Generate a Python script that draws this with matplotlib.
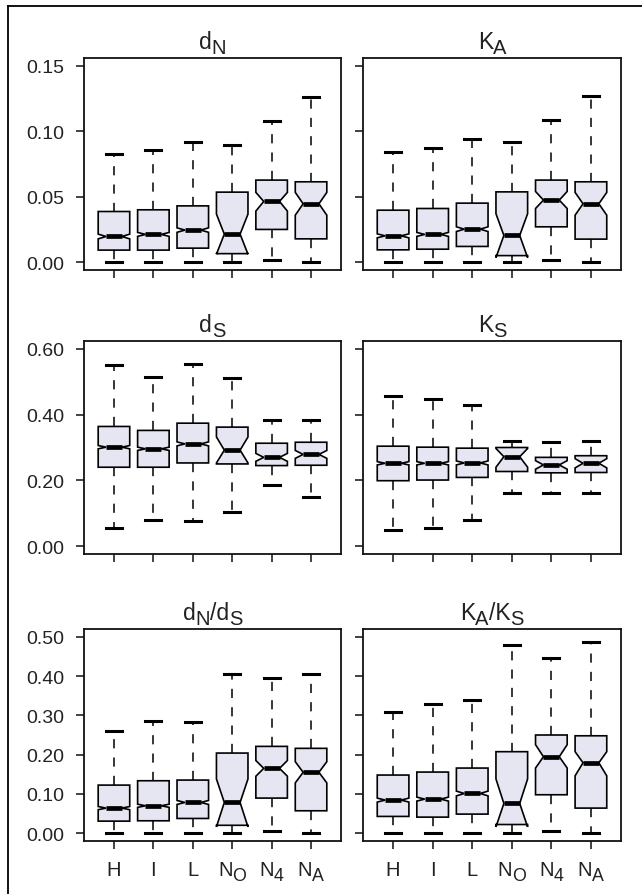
import matplotlib
matplotlib.use('Agg')
import matplotlib.pyplot as plt
from matplotlib.transforms import IdentityTransform
from matplotlib.lines import Line2D

plt.rcParams['font.family'] = ['Liberation Sans', 'DejaVu Sans']

# --------------------------------------------------------------------------
# Data: whisker low, Q1, median, Q3, whisker high,
# notch low, notch high for the six groups
# --------------------------------------------------------------------------
groups = [("H", ""), ("I", ""), ("L", ""), ("N", "O"), ("N", "4"), ("N", "A")]

dn_lo  = [0.0, 0.0, 0.0, 0.0, 0.0015, 0.0]
dn_q1  = [0.0092, 0.0092, 0.0107, 0.0065, 0.025, 0.0178]
dn_med = [0.0196, 0.0212, 0.0245, 0.0214, 0.0464, 0.0446]
dn_q3  = [0.0387, 0.040, 0.043, 0.0535, 0.0627, 0.0614]
dn_hi  = [0.083, 0.0856, 0.092, 0.0897, 0.1077, 0.1263]
dn_clo = [0.0178, 0.0197, 0.0228, 0.0061, 0.039, 0.0359]
dn_chi = [0.0214, 0.0227, 0.0262, 0.0367, 0.0533, 0.0533]

ka_lo  = [0.0, 0.0, 0.0, 0.0, 0.0015, 0.0]
ka_q1  = [0.0094, 0.0099, 0.012, 0.005, 0.027, 0.0176]
ka_med = [0.0201, 0.0212, 0.0252, 0.0204, 0.0474, 0.0446]
ka_q3  = [0.0397, 0.041, 0.0451, 0.0537, 0.0627, 0.0614]
ka_hi  = [0.0843, 0.0871, 0.0942, 0.0917, 0.1087, 0.1268]
ka_clo = [0.0186, 0.0197, 0.0234, 0.0035, 0.041, 0.0359]
ka_chi = [0.0216, 0.0227, 0.027, 0.037, 0.054, 0.0533]

ds_lo  = [0.056, 0.0786, 0.077, 0.105, 0.186, 0.150]
ds_q1  = [0.240, 0.240, 0.253, 0.250, 0.245, 0.246]
ds_med = [0.301, 0.296, 0.311, 0.292, 0.270, 0.279]
ds_q3  = [0.364, 0.352, 0.374, 0.362, 0.313, 0.316]
ds_hi  = [0.550, 0.515, 0.553, 0.510, 0.385, 0.385]
ds_clo = [0.296, 0.291, 0.305, 0.253, 0.258, 0.267]
ds_chi = [0.306, 0.301, 0.317, 0.332, 0.282, 0.291]

ks_lo  = [0.048, 0.054, 0.0786, 0.163, 0.163, 0.163]
ks_q1  = [0.199, 0.201, 0.209, 0.227, 0.223, 0.224]
ks_med = [0.252, 0.252, 0.253, 0.272, 0.247, 0.252]
ks_q3  = [0.304, 0.301, 0.298, 0.300, 0.270, 0.275]
ks_hi  = [0.457, 0.447, 0.428, 0.321, 0.317, 0.321]
ks_clo = [0.247, 0.247, 0.247, 0.240, 0.234, 0.238]
ks_chi = [0.257, 0.257, 0.259, 0.297, 0.260, 0.266]

dnds_lo  = [0.0, 0.0, 0.0, 0.0, 0.0043, 0.0]
dnds_q1  = [0.0306, 0.0315, 0.0374, 0.020, 0.0893, 0.057]
dnds_med = [0.0638, 0.0697, 0.0782, 0.0782, 0.165, 0.155]
dnds_q3  = [0.1224, 0.1335, 0.1352, 0.204, 0.221, 0.216]
dnds_hi  = [0.259, 0.2866, 0.2823, 0.4056, 0.3954, 0.4056]
dnds_clo = [0.0598, 0.0657, 0.0732, 0.016, 0.145, 0.128]
dnds_chi = [0.0678, 0.0737, 0.0832, 0.138, 0.185, 0.182]

kaks_lo  = [0.0, 0.0, 0.0, 0.0, 0.0043, 0.0]
kaks_q1  = [0.0426, 0.0408, 0.0485, 0.022, 0.0978, 0.0638]
kaks_med = [0.0842, 0.0867, 0.101, 0.0757, 0.1947, 0.1793]
kaks_q3  = [0.148, 0.1556, 0.1658, 0.2075, 0.250, 0.248]
kaks_hi  = [0.308, 0.328, 0.3385, 0.480, 0.4464, 0.4864]
kaks_clo = [0.0792, 0.0817, 0.095, 0.016, 0.1658, 0.146]
kaks_chi = [0.0892, 0.0917, 0.107, 0.138, 0.2253, 0.2075]

top_ticks = [0.00, 0.05, 0.10, 0.15]
mid_ticks = [0.00, 0.20, 0.40, 0.60]
bot_ticks = [0.00, 0.10, 0.20, 0.30, 0.40, 0.50]

# --------------------------------------------------------------------------
# Layout (pixels)
# --------------------------------------------------------------------------
W, H = 642, 895
fig = plt.figure(figsize=(W / 100, H / 100), dpi=100)
fig.patch.set_facecolor('white')

cols = [(84, 341), (363, 621)]
rows = [(59, 271), (342, 555), (630, 842)]

FILL = '#e6e6f2'


def make_stats(lo, q1, med, q3, hi, clo, chi):
    out = []
    for i in range(len(med)):
        out.append(dict(whislo=lo[i], q1=q1[i], med=med[i], q3=q3[i],
                        whishi=hi[i], cilo=clo[i], cihi=chi[i], fliers=[]))
    return out


panels = [
    (0, 0, make_stats(dn_lo, dn_q1, dn_med, dn_q3, dn_hi, dn_clo, dn_chi), top_ticks, [("d", 0), ("N", 1)]),
    (0, 1, make_stats(ka_lo, ka_q1, ka_med, ka_q3, ka_hi, ka_clo, ka_chi), top_ticks, [("K", 0), ("A", 1)]),
    (1, 0, make_stats(ds_lo, ds_q1, ds_med, ds_q3, ds_hi, ds_clo, ds_chi), mid_ticks, [("d", 0), ("S", 1)]),
    (1, 1, make_stats(ks_lo, ks_q1, ks_med, ks_q3, ks_hi, ks_clo, ks_chi), mid_ticks, [("K", 0), ("S", 1)]),
    (2, 0, make_stats(dnds_lo, dnds_q1, dnds_med, dnds_q3, dnds_hi, dnds_clo, dnds_chi), bot_ticks,
     [("d", 0), ("N", 1), ("/d", 0), ("S", 1)]),
    (2, 1, make_stats(kaks_lo, kaks_q1, kaks_med, kaks_q3, kaks_hi, kaks_clo, kaks_chi), bot_ticks,
     [("K", 0), ("A", 1), ("/K", 0), ("S", 1)]),
]

renderer = fig.canvas.get_renderer()


def rich_text(x, y, parts, size, sub_scale=0.88, sub_drop=5):
    # x, y in display pixels (y from the bottom); centred on x, baseline at y
    arts = []
    for s, sub in parts:
        t = fig.text(0, 0, s, fontsize=size * (sub_scale if sub else 1.0),
                     transform=IdentityTransform(), ha='left', va='baseline',
                     color='#222222')
        arts.append((t, sub, t.get_window_extent(renderer).width))
    total = sum(a[2] for a in arts)
    cx = x - total / 2
    for t, sub, w in arts:
        t.set_position((cx, y - sub_drop if sub else y))
        cx += w


for r, c, stats, ticks, title in panels:
    x0, x1 = cols[c]
    y0, y1 = rows[r]
    ax = fig.add_axes([x0 / W, (H - y1) / H, (x1 - x0) / W, (y1 - y0) / H])
    ax.bxp(stats, positions=range(1, 7), widths=0.8, shownotches=True,
           patch_artist=True, showfliers=False,
           boxprops=dict(facecolor=FILL, edgecolor='black', linewidth=1.2),
           medianprops=dict(color='black', linewidth=3.4, solid_capstyle='butt'),
           whiskerprops=dict(color='black', linewidth=1.1, linestyle=(0, (6, 6))),
           capprops=dict(color='black', linewidth=2.2))
    top = ticks[-1]
    ax.set_ylim(-0.04 * top, 1.04 * top)
    ax.set_xlim(0.24, 6.76)
    ax.set_yticks(ticks)
    ax.set_xticks(range(1, 7))
    ax.set_xticklabels([])
    if c == 0:
        ax.set_yticklabels(['%.2f' % v for v in ticks])
    else:
        ax.set_yticklabels([])
    ax.tick_params(axis='both', length=6, width=1.2, color='#222222',
                   labelsize=14, labelcolor='#222222', pad=8)
    for sp in ax.spines.values():
        sp.set_linewidth(1.3)
        sp.set_color('#111111')

    # panel title
    cx = (x0 + x1) / 2
    rich_text(cx, H - (y0 - 9.5), title, 16.5)

    # group labels along the bottom row
    if r == 2:
        for i, (main, sub) in enumerate(groups):
            px = ax.transData.transform((i + 1, 0))[0]
            parts = [(main, 0)] + ([(sub, 1)] if sub else [])
            rich_text(px, H - 876, parts, 14.5)

# outer frame (left and top edges only, as in the cropped original)
fig.add_artist(Line2D([8 / W, 8 / W], [0, (H - 7) / H], color='black',
                      linewidth=1.3, transform=fig.transFigure))
fig.add_artist(Line2D([8 / W, 1], [(H - 7) / H, (H - 7) / H], color='black',
                      linewidth=1.3, transform=fig.transFigure))

fig.savefig('out.png', dpi=100)
